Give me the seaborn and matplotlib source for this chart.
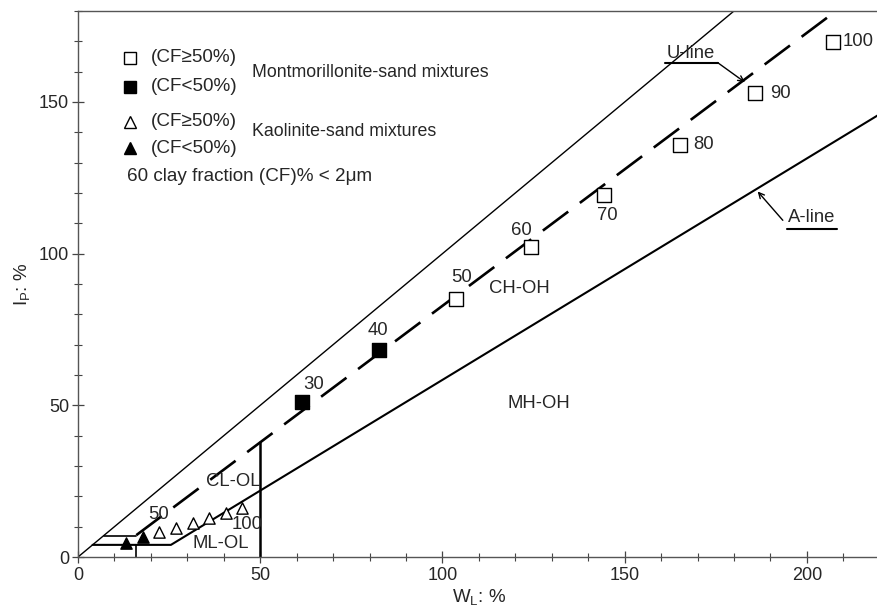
import matplotlib
matplotlib.use("Agg")
import matplotlib.pyplot as plt
import pandas as pd
import seaborn as sns
from matplotlib.ticker import MultipleLocator

# Montmorillonite-sand mixtures: liquid limit (wL) and plasticity index (Ip) by clay fraction
mont_cf = [30, 40, 50, 60, 70, 80, 90, 100]
mont_wl = [61.5, 82.5, 103.6, 124.2, 144.4, 165.2, 185.8, 207.2]
mont_ip = [51.1, 68.4, 85.1, 102.1, 119.4, 135.9, 152.9, 169.8]

# Kaolinite-sand mixtures
kaol_cf = [30, 40, 50, 60, 70, 80, 90, 100]
kaol_wl = [13.1, 17.9, 22.3, 26.8, 31.5, 36.0, 40.7, 45.1]
kaol_ip = [4.7, 6.7, 8.1, 9.6, 11.3, 12.7, 14.4, 16.0]

# Plasticity chart boundaries
limit_wl, limit_ip = [0, 180], [0, 180]             # Ip = wL
u_line_wl, u_line_ip = [16, 208], [7.2, 180]        # U-line
u_stub_wl, u_stub_ip = [16, 16], [0, 4]
a_line_wl, a_line_ip = [4, 25.5, 220], [4, 4, 146.0]  # A-line
shelf_wl, shelf_ip = [7, 16], [7, 7]
ll50_wl, ll50_ip = [50, 50], [0, 37.8]

# Montmorillonite label offsets (pixels) from each point
mont_lab_dx = [11, -1, 6, -9, 3, 24, 25, 25]
mont_lab_dy = [17, 19, 21, 17, -21, 0, 0, 0]

sns.set_style("ticks")
plt.rcParams["font.family"] = ["Liberation Sans", "DejaVu Sans"]
plt.rcParams["mathtext.fontset"] = "custom"
plt.rcParams["mathtext.rm"] = "Liberation Sans"
plt.rcParams["mathtext.it"] = "Liberation Sans:italic"

FS = 13.3

mont = pd.DataFrame({"cf": mont_cf, "wl": mont_wl, "ip": mont_ip})
kaol = pd.DataFrame({"cf": kaol_cf, "wl": kaol_wl, "ip": kaol_ip})

fig = plt.figure(figsize=(8.78, 6.13), dpi=100)
ax = fig.add_axes([78 / 878, 1 - 557 / 613, 1 - 78 / 878 + 0.002, (557 - 11) / 613])

ink = "black"
sns.lineplot(x=limit_wl, y=limit_ip, ax=ax, color=ink, lw=1.0, sort=False, estimator=None)
sns.lineplot(x=u_line_wl, y=u_line_ip, ax=ax, color=ink, lw=1.9, sort=False,
             estimator=None, linestyle=(0, (12, 5.5)))
sns.lineplot(x=u_stub_wl, y=u_stub_ip, ax=ax, color=ink, lw=1.2, sort=False, estimator=None)
sns.lineplot(x=a_line_wl, y=a_line_ip, ax=ax, color=ink, lw=1.5, sort=False, estimator=None)
sns.lineplot(x=shelf_wl, y=shelf_ip, ax=ax, color=ink, lw=1.2, sort=False, estimator=None)
sns.lineplot(x=ll50_wl, y=ll50_ip, ax=ax, color=ink, lw=1.8, sort=False, estimator=None)

# Data points: filled for CF < 50 %, open for CF >= 50 %
for df, mk, size in ((mont, "s", 90), (kaol, "^", 66)):
    low = df[df.cf < 50]
    high = df[df.cf >= 50]
    sns.scatterplot(data=low, x="wl", y="ip", ax=ax, marker=mk, s=size,
                    color=ink, edgecolor=ink, linewidth=1.0, zorder=5)
    sns.scatterplot(data=high, x="wl", y="ip", ax=ax, marker=mk, s=size,
                    color="white", edgecolor=ink, linewidth=1.0, zorder=5)

for cf, x, y, dx, dy in zip(mont_cf, mont_wl, mont_ip, mont_lab_dx, mont_lab_dy):
    ax.annotate(str(cf), (x, y), xytext=(dx, dy), textcoords="offset pixels",
                ha="center", va="center", fontsize=FS)

kaol_labels = {50: (-1, 18), 100: (5, -16)}
for cf, x, y in zip(kaol_cf, kaol_wl, kaol_ip):
    if cf in kaol_labels:
        dx, dy = kaol_labels[cf]
        ax.annotate(str(cf), (x, y), xytext=(dx, dy), textcoords="offset pixels",
                    ha="center", va="center", fontsize=FS)

# Zone names
for txt, x, y in (("CH-OH", 121.2, 88.5), ("MH-OH", 126.4, 50.7),
                  ("CL-OL", 42.6, 25.0), ("ML-OL", 39.3, 4.6)):
    ax.text(x, y, txt, ha="center", va="center", fontsize=FS)

# Line callouts
arrow = dict(arrowstyle="->", color=ink, lw=1.0, shrinkA=0, shrinkB=0)
ax.annotate("U-line", xy=(183.0, 156.5), xytext=(168.0, 166.0),
            ha="center", va="center", fontsize=FS)
ax.annotate("", xy=(183.0, 156.5), xytext=(175.5, 163.0), arrowprops=arrow)
ax.plot([161.2, 175.5], [162.8, 162.8], color=ink, lw=1.5)
ax.annotate("A-line", xy=(201.4, 111.8), ha="center", va="center", fontsize=FS)
ax.annotate("", xy=(186.5, 120.5), xytext=(193.4, 111.0), arrowprops=arrow)
ax.plot([194.6, 208.2], [108.2, 108.2], color=ink, lw=1.5)

# Key
tr = ax.transAxes
key_x = 0.065
ax.plot([key_x], [0.914], marker="s", ms=9, mfc="white", mec=ink, mew=1.0, transform=tr)
ax.plot([key_x], [0.861], marker="s", ms=9, mfc=ink, mec=ink, mew=1.0, transform=tr)
ax.plot([key_x], [0.797], marker="^", ms=8.5, mfc="white", mec=ink, mew=1.0, transform=tr)
ax.plot([key_x], [0.749], marker="^", ms=8.5, mfc=ink, mec=ink, mew=1.0, transform=tr)
for y, t in ((0.914, "(CF\u226550%)"), (0.861, "(CF<50%)"),
             (0.797, "(CF\u226550%)"), (0.749, "(CF<50%)")):
    ax.text(0.091, y, t, transform=tr, ha="left", va="center", fontsize=13.6)
ax.text(0.2175, 0.888, "Montmorillonite-sand mixtures", transform=tr,
        ha="left", va="center", fontsize=12.8)
ax.text(0.2175, 0.780, "Kaolinite-sand mixtures", transform=tr,
        ha="left", va="center", fontsize=12.8)
ax.text(0.061, 0.696, "60 clay fraction (CF)% < 2\u03bcm", transform=tr,
        ha="left", va="center", fontsize=13.6)

ax.set_xlim(0, 220)
ax.set_ylim(0, 180)
ax.xaxis.set_major_locator(MultipleLocator(50))
ax.xaxis.set_minor_locator(MultipleLocator(10))
ax.yaxis.set_major_locator(MultipleLocator(50))
ax.yaxis.set_minor_locator(MultipleLocator(10))
ax.tick_params(which="major", direction="inout", length=9, width=0.9,
               labelsize=13, color="#444444")
ax.tick_params(which="minor", direction="inout", length=6, width=0.8, color="#444444")
ax.tick_params(axis="x", pad=3)
ax.tick_params(axis="y", pad=2)

for side in ("left", "bottom", "top"):
    ax.spines[side].set_color("#555555")
    ax.spines[side].set_linewidth(1.0)
ax.spines["right"].set_visible(False)

ax.set_xlabel(r"W$_\mathregular{L}$: %", fontsize=13.5, labelpad=2)
ax.set_ylabel(r"I$_\mathregular{P}$: %", fontsize=13.5, labelpad=5)

fig.savefig("out.png", dpi=100)
